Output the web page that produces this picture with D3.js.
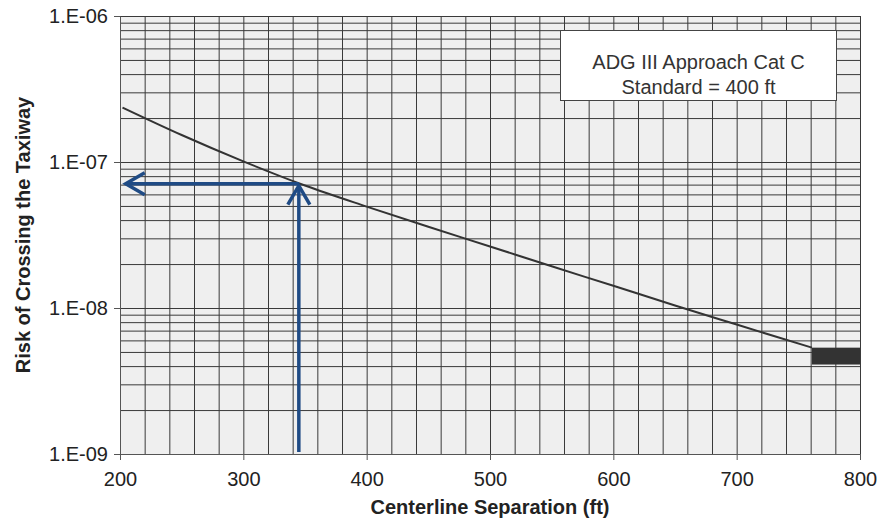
<!DOCTYPE html>
<html>
<head>
<meta charset="utf-8">
<script src="https://cdn.jsdelivr.net/npm/d3@7"></script>
<style>
  body { margin: 0; background: #fff; }
  svg { font-family: Arial, "Liberation Sans", sans-serif; }
</style>
</head>
<body>
<svg id="chart"></svg>
<script>
// curve
const separation = [202, 250, 300, 350, 400, 450, 500, 550, 600, 650, 700, 761];
const risk = [2.36e-7, 1.53e-7, 1.01e-7, 6.9e-8, 4.95e-8, 3.6e-8, 2.64e-8, 1.93e-8, 1.42e-8, 1.04e-8, 7.7e-9, 5.35e-9];

// target band at the right end
const bandX = [761, 800];
const bandY = [4.1e-9, 5.35e-9];

// the read-off arrows
const arrowX = 345;
const arrowY = 7.1e-8;
const arrowEndX = 203;

const xTicks = [200, 300, 400, 500, 600, 700, 800];
const yTicks = [1e-6, 1e-7, 1e-8, 1e-9];
const yTickLabels = ['1.E-06', '1.E-07', '1.E-08', '1.E-09'];
const legendLines = ['ADG III Approach Cat C', 'Standard = 400 ft'];

const width = 881, height = 523;
const margin = { top: 16, right: 21, bottom: 69, left: 120 };
const w = width - margin.left - margin.right;
const h = height - margin.top - margin.bottom;

const svg = d3.select('#chart').attr('width', width).attr('height', height);
const g = svg.append('g').attr('transform', `translate(${margin.left},${margin.top})`);

const x = d3.scaleLinear().domain([200, 800]).range([0, w]);
const y = d3.scaleLog().domain([1e-9, 1e-6]).range([h, 0]);

g.append('rect').attr('width', w).attr('height', h).attr('fill', '#efefef');

// grid
const xGrid = d3.range(200, 801, 20);
const yGrid = [];
[1e-9, 1e-8, 1e-7].forEach(d => { for (let k = 1; k <= 10; k++) yGrid.push(d * k); });

g.append('g')
  .call(d3.axisBottom(x).tickValues(xGrid).tickSize(h).tickFormat(''))
  .call(s => s.select('.domain').remove())
  .selectAll('line').attr('stroke', '#3a3a3a').attr('stroke-width', 1);

g.append('g')
  .call(d3.axisLeft(y).tickValues(yGrid).tickSize(-w).tickFormat(''))
  .call(s => s.select('.domain').remove())
  .selectAll('line').attr('stroke', '#3a3a3a').attr('stroke-width', 1);

// axes
const xAxis = g.append('g')
  .attr('transform', `translate(0,${h})`)
  .call(d3.axisBottom(x).tickValues(xTicks).tickSize(6).tickSizeOuter(0).tickPadding(12));
xAxis.selectAll('text').attr('font-size', 20).attr('fill', '#222');

const yAxis = g.append('g')
  .call(d3.axisLeft(y).tickValues(yTicks).tickSize(6).tickSizeOuter(0).tickPadding(6)
    .tickFormat((d, i) => yTickLabels[i]));
yAxis.selectAll('text').attr('font-size', 20).attr('fill', '#222');

[xAxis, yAxis].forEach(a => {
  a.select('.domain').attr('stroke', '#555');
  a.selectAll('.tick line').attr('stroke', '#555');
});

// curve
const pts = separation.map((d, i) => [d, risk[i]]);
g.append('path')
  .datum(pts)
  .attr('fill', 'none')
  .attr('stroke', '#333')
  .attr('stroke-width', 2)
  .attr('d', d3.line().x(d => x(d[0])).y(d => y(d[1])).curve(d3.curveMonotoneX));

g.append('rect')
  .attr('x', x(bandX[0])).attr('width', x(bandX[1]) - x(bandX[0]))
  .attr('y', y(bandY[1])).attr('height', y(bandY[0]) - y(bandY[1]))
  .attr('fill', '#333');

// arrows
const blue = '#1f4b85';
const arrow = g.append('g').attr('stroke', blue).attr('stroke-width', 3.5).attr('fill', 'none')
  .attr('stroke-linecap', 'butt').attr('stroke-linejoin', 'miter');
const ax = x(arrowX), ay = y(arrowY), ex = x(arrowEndX);
arrow.append('line').attr('x1', ax).attr('x2', ax).attr('y1', h - 2).attr('y2', ay + 2);
arrow.append('path').attr('d', `M${ax - 11},${ay + 21} L${ax},${ay + 2} L${ax + 11},${ay + 21}`);
arrow.append('line').attr('x1', ax).attr('x2', ex + 2).attr('y1', ay).attr('y2', ay);
arrow.append('path').attr('d', `M${ex + 21},${ay - 11} L${ex + 2},${ay} L${ex + 21},${ay + 11}`);

// legend box
const lg = g.append('g').attr('transform', `translate(${560.5 - margin.left},${30.5 - margin.top})`);
lg.append('rect').attr('width', 276).attr('height', 70).attr('fill', '#fff').attr('stroke', '#444');
lg.selectAll('text').data(legendLines).join('text')
  .attr('x', 138).attr('y', (d, i) => 38 + i * 25)
  .attr('text-anchor', 'middle').attr('font-size', 20).attr('fill', '#333')
  .text(d => d);

// titles
svg.append('text')
  .attr('x', margin.left + w / 2).attr('y', 514)
  .attr('text-anchor', 'middle').attr('font-size', 20).attr('font-weight', 'bold').attr('fill', '#222')
  .text('Centerline Separation (ft)');

svg.append('text')
  .attr('transform', `translate(30,${margin.top + h / 2}) rotate(-90)`)
  .attr('text-anchor', 'middle').attr('font-size', 20).attr('font-weight', 'bold').attr('fill', '#222')
  .text('Risk of Crossing the Taxiway');
</script>
</body>
</html>
